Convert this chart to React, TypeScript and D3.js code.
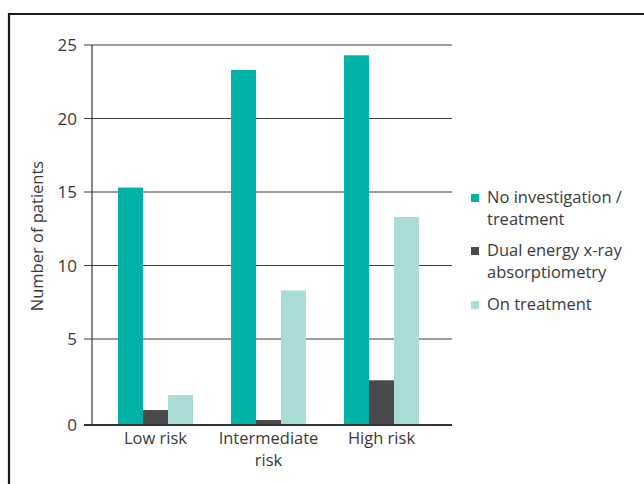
import { useEffect, useRef } from 'react';
import * as d3 from 'd3';

const categories = [['Low risk'], ['Intermediate', 'risk'], ['High risk']];
const seriesNames = ['No investigation / treatment', 'Dual energy x-ray absorptiometry', 'On treatment'];
const legendLines = [['No investigation /', 'treatment'], ['Dual energy x-ray', 'absorptiometry'], ['On treatment']];
const noInvestigation = [15.3, 23.3, 24.3];
const dexa = [0.87, 0.29, 2.6];
const onTreatment = [1.74, 8.3, 13.3];
const yTicks = [0, 5, 10, 15, 20, 25];
const colors = ['#00b2a5', '#4a4a4c', '#a9dcd6'];

function App() {
  const svgRef = useRef<SVGSVGElement>(null);

  useEffect(() => {
    const width = 644;
    const height = 484;
    const svg = d3.select(svgRef.current)
      .attr('width', width)
      .attr('height', height);
    svg.selectAll('*').remove();

    const font = '"Open Sans", sans-serif';
    const textColor = '#3a3a3a';

    // frame (left and top only)
    svg.append('path')
      .attr('d', 'M9,484 V14 H644')
      .attr('fill', 'none')
      .attr('stroke', '#1a1a1a')
      .attr('stroke-width', 2.2);

    const axisLeft = 92;
    const axisRight = 452;

    // the original axis has a stretched first interval
    const y = d3.scaleLinear().domain([0, 5, 25]).range([425, 339, 45]);

    const groups = d3.scaleBand<number>()
      .domain(d3.range(categories.length))
      .range([99, 438])
      .paddingInner(38 / 113)
      .paddingOuter(19 / 113);

    const bars = d3.scaleBand<number>()
      .domain(d3.range(seriesNames.length))
      .range([0, groups.bandwidth()]);

    // gridlines
    svg.append('g')
      .selectAll('line')
      .data(yTicks.filter(t => t > 0))
      .enter().append('line')
      .attr('x1', axisLeft - 8)
      .attr('x2', axisRight)
      .attr('y1', d => y(d))
      .attr('y2', d => y(d))
      .attr('stroke', '#3c3c3c')
      .attr('stroke-width', 1.2);

    // y axis line
    svg.append('line')
      .attr('x1', axisLeft).attr('x2', axisLeft)
      .attr('y1', y(25)).attr('y2', y(0))
      .attr('stroke', '#3c3c3c')
      .attr('stroke-width', 1.2);

    // tick labels
    svg.append('g')
      .selectAll('text')
      .data(yTicks)
      .enter().append('text')
      .attr('x', 77)
      .attr('y', d => y(d) + 6)
      .attr('text-anchor', 'end')
      .attr('font-family', font)
      .attr('font-size', 17)
      .attr('fill', textColor)
      .text(d => d);

    const series = [noInvestigation, dexa, onTreatment];
    series.forEach((values, si) => {
      svg.append('g')
        .selectAll('rect')
        .data(values)
        .enter().append('rect')
        .attr('x', (d, i) => (groups(i) ?? 0) + (bars(si) ?? 0))
        .attr('width', bars.bandwidth())
        .attr('y', d => y(d))
        .attr('height', d => y(0) - y(d))
        .attr('fill', colors[si]);
    });

    // bottom axis
    svg.append('line')
      .attr('x1', axisLeft - 8).attr('x2', axisRight)
      .attr('y1', y(0)).attr('y2', y(0))
      .attr('stroke', '#333')
      .attr('stroke-width', 2);

    // category labels
    categories.forEach((lines, i) => {
      const cx = (groups(i) ?? 0) + groups.bandwidth() / 2;
      const t = svg.append('text')
        .attr('text-anchor', 'middle')
        .attr('font-family', font)
        .attr('font-size', 16.5)
        .attr('fill', textColor);
      lines.forEach((line, li) => {
        t.append('tspan')
          .attr('x', cx)
          .attr('y', 444 + li * 22)
          .text(line);
      });
    });

    // y axis title
    svg.append('text')
      .attr('transform', 'translate(43,236) rotate(-90)')
      .attr('text-anchor', 'middle')
      .attr('font-family', font)
      .attr('font-size', 16.5)
      .attr('fill', textColor)
      .text('Number of patients');

    // legend
    const legendTops = [203, 256, 310];
    legendLines.forEach((lines, i) => {
      svg.append('rect')
        .attr('x', 471)
        .attr('y', legendTops[i] - 9)
        .attr('width', 8)
        .attr('height', 8)
        .attr('fill', colors[i]);
      const t = svg.append('text')
        .attr('font-family', font)
        .attr('font-size', 16.5)
        .attr('fill', textColor);
      lines.forEach((line, li) => {
        t.append('tspan')
          .attr('x', 487)
          .attr('y', legendTops[i] + li * 22)
          .text(line);
      });
    });
  }, []);

  return <svg ref={svgRef} style={{ position: 'absolute', left: 0, top: 0, background: '#fff' }}></svg>;
}

export default App;
